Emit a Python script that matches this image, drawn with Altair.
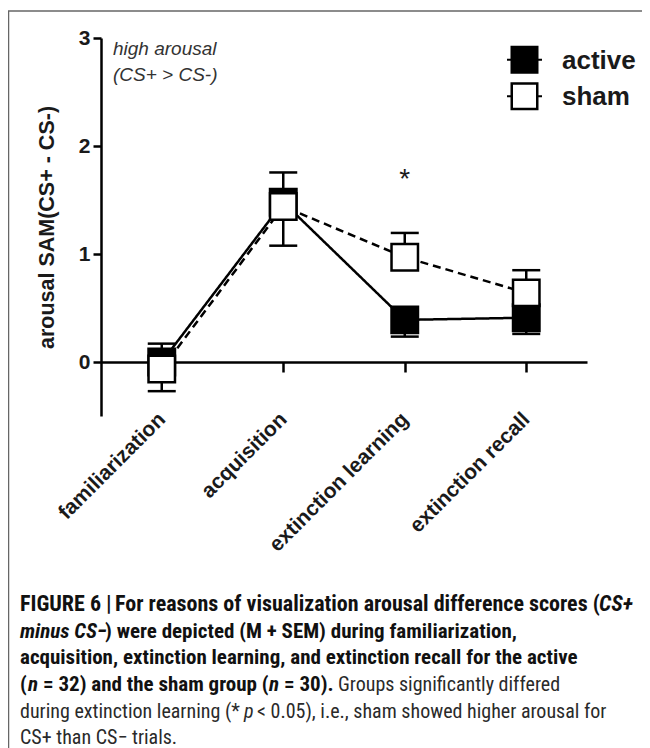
import altair as alt
import pandas as pd

# ---------------- data ----------------
phases = ["familiarization", "acquisition", "extinction learning", "extinction recall"]
groups = ["active", "sham"]
group_fills = ["black", "white"]
active_mean = [0.0, 1.48, 0.39, 0.41]
active_bar_end = [0.17, 1.755, 0.235, 0.26]
sham_mean = [-0.065, 1.44, 0.97, 0.64]
sham_bar_end = [-0.27, 1.077, 1.195, 0.85]
y_ticks = [0, 1, 2, 3]
star_phase = ["extinction learning"]
star_value = [1.73]
note_lines = ["high arousal", "(CS+ > CS-)"]

caption_segments = [
    # (line, page_x, text, style, font size)
    (0, 20, "FIGURE 6 |", "b", 22),
    (0, 115, "For reasons of visualization arousal difference scores (", "b", 22),
    (0, 599, "CS+", "bi", 22),
    (1, 20, "minus CS\u2212", "bi", 21),
    (1, 105, ") were depicted (M + SEM) during familiarization,", "b", 21),
    (2, 20, "acquisition, extinction learning, and extinction recall for the active", "b", 21),
    (3, 20, "(", "b", 21),
    (3, 28, "n", "bi", 21),
    (3, 43, "= 32) and the sham group (", "b", 21),
    (3, 269, "n", "bi", 21),
    (3, 284, "= 30).", "b", 21),
    (3, 338, "Groups significantly differed", "r", 20),
    (4, 20, "during extinction learning (*", "r", 20),
    (4, 244, "p", "ri", 20),
    (4, 257, "< 0.05), i.e., sham showed higher arousal for", "r", 20),
    (5, 20, "CS+ than CS\u2212 trials.", "r", 20),
]
caption_baselines = [611, 638, 664, 691, 718, 744]

# ---------------- layout ----------------
W, H = 486, 378
PAD_L, PAD_T, PAD_R, PAD_B = 93, 30, 55, 332
PAGE_X0, PAGE_Y0 = 8 + PAD_L, 8 + PAD_T

FONT = "Liberation Sans"
CAPFONT = "Liberation Sans Narrow, Roboto Condensed, Liberation Sans"

rows = []
for i, p in enumerate(phases):
    rows.append(dict(phase=p, group="active", mean=active_mean[i], end=active_bar_end[i]))
for i, p in enumerate(phases):
    rows.append(dict(phase=p, group="sham", mean=sham_mean[i], end=sham_bar_end[i]))
df = pd.DataFrame(rows)

xscale = alt.Scale(type="point", domain=phases, padding=0.5)
yscale = alt.Scale(domain=[-0.5, 3], nice=False, zero=False)

xaxis = alt.Axis(title=None, offset=-54, domainWidth=2.5, domainColor="black",
                 tickSize=10, tickWidth=2.5, tickColor="black",
                 labelAngle=-45, labelAlign="right", labelBaseline="middle",
                 labelPadding=44, labelFont=FONT, labelFontWeight="bold",
                 labelFontSize=21, labelColor="#1a1a1a", labelLimit=0, grid=False)
yaxis = alt.Axis(title="arousal SAM(CS+ - CS-)", values=y_ticks, format="d",
                 domainWidth=2.5, domainColor="black", tickSize=8, tickWidth=2.5,
                 tickColor="black", labelFont=FONT, labelFontWeight="bold",
                 labelFontSize=21, labelPadding=3, labelColor="#1a1a1a",
                 titleFont=FONT, titleFontWeight="bold", titleFontSize=21.5,
                 titleColor="#1a1a1a", titlePadding=20, grid=False)

X = alt.X("phase:N", scale=xscale, sort=phases, axis=xaxis)


def Yf(field):
    return alt.Y(field, scale=yscale, axis=yaxis)


base = alt.Chart(df)

lines = base.mark_line(color="black", strokeWidth=2.5).encode(
    x=X, y=Yf("mean:Q"),
    detail="group:N",
    strokeDash=alt.StrokeDash("group:N", scale=alt.Scale(domain=groups, range=[[1, 0], [8, 5]]), legend=None),
)

err = base.mark_rule(color="black", strokeWidth=2.5).encode(
    x=X, y=Yf("mean:Q"), y2="end:Q"
)
caps = base.mark_tick(color="black", thickness=2.5, size=28, opacity=1).encode(
    x=X, y=Yf("end:Q")
)

points = base.mark_point(shape="square", filled=True, size=700, stroke="black",
                         strokeWidth=2.5, opacity=1, fillOpacity=1).encode(
    x=X, y=Yf("mean:Q"),
    fill=alt.Fill("group:N", scale=alt.Scale(domain=groups, range=group_fills), legend=None),
)

star = alt.Chart(pd.DataFrame({"phase": star_phase, "v": star_value})).mark_text(
    text="*", font=FONT, fontSize=28, color="#1a1a1a", baseline="middle", dy=5
).encode(x=X, y=Yf("v:Q"))

note = alt.Chart(pd.DataFrame({"t": [0]})).mark_text(
    text=note_lines, font=FONT, fontStyle="italic", fontSize=19, color="#333333",
    align="left", baseline="alphabetic", lineHeight=26
).encode(x=alt.value(113 - PAGE_X0), y=alt.value(55 - PAGE_Y0))

# manual legend (square with stubs + label)
legend_layers = []
LEG_CX, LEG_Y0, LEG_DY = 524.5, 59.7, 36.6
for k, (g, f) in enumerate(zip(groups, group_fills)):
    cy = LEG_Y0 + k * LEG_DY - PAGE_Y0
    cx = LEG_CX - PAGE_X0
    src = alt.Chart(pd.DataFrame({"label": [g]}))
    legend_layers.append(src.mark_rule(color="black", strokeWidth=2).encode(
        x=alt.value(cx - 17.5), x2=alt.value(cx + 17.5), y=alt.value(cy)))
    legend_layers.append(src.mark_point(shape="square", filled=True, size=650, fill=f,
                                        stroke="black", strokeWidth=2.5, opacity=1).encode(
        x=alt.value(cx), y=alt.value(cy)))
    legend_layers.append(src.mark_text(font=FONT, fontWeight="bold", fontSize=26,
                                       color="#1a1a1a", align="left", baseline="middle", dy=1).encode(
        x=alt.value(562 - PAGE_X0), y=alt.value(cy), text="label:N"))

# caption
cap_rows = []
for line, px, txt, st, fs in caption_segments:
    cap_rows.append(dict(cx=px - PAGE_X0, cy=caption_baselines[line] - PAGE_Y0, t=txt, st=st, fs=fs))
cap_df = pd.DataFrame(cap_rows)


def cap_layer(st, weight, style, color):
    return alt.Chart(cap_df).transform_filter(alt.datum.st == st).mark_text(
        font=CAPFONT, fontWeight=weight, fontStyle=style, color=color,
        align="left", baseline="alphabetic"
    ).encode(x=alt.X("cx:Q", scale=None, axis=None), y=alt.Y("cy:Q", scale=None, axis=None),
             size=alt.Size("fs:Q", scale=None, legend=None),
             text="t:N")


caption = [
    cap_layer("b", "bold", "normal", "#111111"),
    cap_layer("bi", "bold", "italic", "#111111"),
    cap_layer("r", "normal", "normal", "#2a2a2a"),
    cap_layer("ri", "normal", "italic", "#2a2a2a"),
]

frame_top = alt.Chart(pd.DataFrame({"t": [0]})).mark_rule(color="#666666", strokeWidth=1.5).encode(
    x=alt.value(-PAD_L), x2=alt.value(W + PAD_R), y=alt.value(11 - PAGE_Y0))
frame_left = alt.Chart(pd.DataFrame({"t": [0]})).mark_rule(color="#666666", strokeWidth=1.5).encode(
    x=alt.value(8.5 - PAGE_X0), y=alt.value(11 - PAGE_Y0), y2=alt.value(H + PAD_B))

chart = alt.layer(
    lines, err, caps, points, star, note, *legend_layers, frame_top, frame_left, *caption
).properties(
    width=W, height=H,
    autosize=alt.AutoSizeParams(type="none"),
    padding={"left": PAD_L, "top": PAD_T, "right": PAD_R, "bottom": PAD_B},
    background="white",
).configure_view(stroke=None)

chart.save("out.html", embed_options={"renderer": "svg", "actions": False})
